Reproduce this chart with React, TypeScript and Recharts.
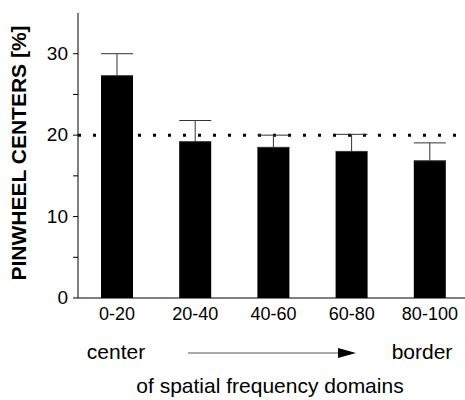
import React from 'react';
import { BarChart, Bar, XAxis, YAxis, ErrorBar, ReferenceLine } from 'recharts';

const categories = ['0-20', '20-40', '40-60', '60-80', '80-100'];
const values = [27.3, 19.2, 18.5, 18.0, 16.85];
const errorsUp = [2.7, 2.6, 1.5, 2.1, 2.2];
const yTicks = [0, 5, 10, 15, 20, 25, 30];
const referenceLevel = 20;

const data = categories.map((c, i) => ({ name: c, value: values[i], err: [0, errorsUp[i]] }));

const FONT = '"Liberation Sans", Arial, Helvetica, sans-serif';

const XTick = (props: any) => {
  const { x, y, payload } = props;
  return (
    <text x={x} y={y + 13} textAnchor="middle" fontFamily={FONT} fontSize={18} fill="#000">
      {payload.value}
    </text>
  );
};

const YTick = (props: any) => {
  const { x, y, payload } = props;
  if (payload.value % 10 !== 0) return <g />;
  return (
    <text x={x} y={y + 6} textAnchor="end" fontFamily={FONT} fontSize={19} fill="#000">
      {payload.value}
    </text>
  );
};

export default function App() {
  return (
    <div style={{ position: 'absolute', left: 0, top: 0, width: 470, height: 400, fontFamily: FONT }}>
      <BarChart
        width={470}
        height={400}
        data={data}
        margin={{ top: 13, right: 1, bottom: 72, left: 0 }}
        barCategoryGap={0}
      >
        <XAxis
          dataKey="name"
          axisLine={{ stroke: '#000', strokeWidth: 1 }}
          tickLine={false}
          tick={<XTick />}
          tickMargin={3}
          height={30}
        />
        <YAxis
          width={78}
          domain={[0, 35]}
          ticks={yTicks}
          interval={0}
          axisLine={{ stroke: '#000', strokeWidth: 1 }}
          tickLine={{ stroke: '#000' }}
          tickSize={5}
          tickMargin={5}
          tick={<YTick />}
          label={{
            content: () => (
              <text
                x={18}
                y={153}
                transform="rotate(-90 18 153)"
                textAnchor="middle"
                dominantBaseline="central"
                fontFamily={FONT}
                fontWeight="bold"
                fontSize={21}
                fill="#000"
              >
                PINWHEEL CENTERS [%]
              </text>
            ),
          }}
        />
        <ReferenceLine y={referenceLevel} stroke="#000" strokeWidth={3} strokeDasharray="3 12" />
        <Bar dataKey="value" fill="#000" barSize={32} isAnimationActive={false}>
          <ErrorBar dataKey="err" width={16} stroke="#333" strokeWidth={1} direction="y" />
        </Bar>
      </BarChart>
      <svg width={470} height={400} style={{ position: 'absolute', left: 0, top: 0, pointerEvents: 'none' }}>
        <text x={116} y={359} textAnchor="middle" fontFamily={FONT} fontSize={21} fill="#000">center</text>
        <text x={422} y={359} textAnchor="middle" fontFamily={FONT} fontSize={21} fill="#000">border</text>
        <line x1={188} y1={353} x2={345} y2={353} stroke="#555" strokeWidth={1} />
        <polygon points="338,348 356,353 338,358" fill="#000" />
        <text x={270} y={393} textAnchor="middle" fontFamily={FONT} fontSize={21} fill="#000">of spatial frequency domains</text>
      </svg>
    </div>
  );
}
